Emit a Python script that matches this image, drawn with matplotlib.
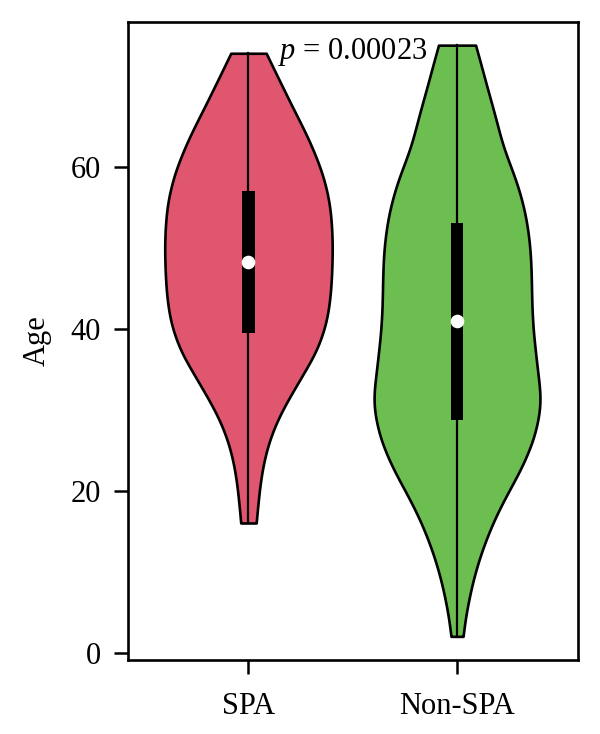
import numpy as np
import matplotlib
matplotlib.use("Agg")
import matplotlib.pyplot as plt
from matplotlib.patches import Rectangle

# ---- data ----
groups = ["SPA", "Non-SPA"]
colors = ["#E0566F", "#6CBE50"]
mins = [16, 2]
q1 = [39.4, 28.7]
medians = [48.2, 40.9]
q3 = [57.0, 53.0]
maxs = [74, 75]

# violin profiles (age level, half-width in x units)
spa_age = [16, 18, 20.5, 22.5, 24.6, 26.6, 28.7, 30.8, 32.8, 35.0, 37.0, 38.6, 40.6,
           42.7, 44.8, 46.8, 49.0, 51.0, 53.0, 55.1, 57.2, 59.2, 61.3, 63.3, 65.4,
           67.4, 69.5, 71.6, 74.0]
spa_width = [0.037, 0.044, 0.054, 0.065, 0.082, 0.105, 0.138, 0.180, 0.226, 0.276,
             0.322, 0.346, 0.372, 0.386, 0.395, 0.399, 0.402, 0.402, 0.398, 0.391,
             0.375, 0.354, 0.323, 0.290, 0.250, 0.210, 0.170, 0.130, 0.085]
non_age = [2, 4, 6, 8.1, 10.2, 12.2, 14.3, 16.4, 18.5, 20.5, 22.5, 24.6, 26.6, 28.7,
           30.4, 32.0, 33.2, 35.3, 37.4, 39.5, 41.5, 43.5, 45.6, 47.6, 49.7, 51.8,
           53.8, 55.9, 58.0, 60.0, 62.1, 64.0, 65.8, 67.9, 69.9, 72.5, 75.0]
non_width = [0.029, 0.038, 0.052, 0.069, 0.090, 0.114, 0.144, 0.178, 0.218, 0.260,
             0.303, 0.340, 0.370, 0.389, 0.400, 0.400, 0.394, 0.384, 0.375, 0.366,
             0.361, 0.358, 0.357, 0.355, 0.351, 0.342, 0.330, 0.311, 0.287, 0.258,
             0.226, 0.205, 0.1875, 0.165, 0.143, 0.116, 0.089]

profiles = [(spa_age, spa_width), (non_age, non_width)]
yticks = [0, 20, 40, 60]
p_label = r"$p$ = 0.00023"
ylabel = "Age"

plt.rcParams['font.family'] = ['Liberation Serif', 'DejaVu Serif']
plt.rcParams['mathtext.fontset'] = 'custom'
plt.rcParams['mathtext.it'] = 'Liberation Serif:italic'
plt.rcParams['mathtext.rm'] = 'Liberation Serif'

FS = 22


def smooth_profile(ages, widths, step=0.05, sigma=1.3):
    a = np.asarray(ages, float)
    w = np.asarray(widths, float)
    ys = np.arange(a[0], a[-1] + step / 2, step)
    ws = np.interp(ys, a, w)
    k = int(4 * sigma / step)
    # odd reflection at both ends keeps the end slopes
    left = 2 * ws[0] - ws[1:k + 1][::-1]
    right = 2 * ws[-1] - ws[-k - 1:-1][::-1]
    padded = np.concatenate([left, ws, right])
    xk = np.arange(-k, k + 1) * step
    kern = np.exp(-0.5 * (xk / sigma) ** 2)
    kern /= kern.sum()
    sm = np.convolve(padded, kern, mode='valid')
    sm[0] = w[0]
    sm[-1] = w[-1]
    return ys, sm


fig = plt.figure(figsize=(6.0, 7.34), dpi=100)
ax = fig.add_axes([0.2125, 0.1008, 0.7508, 0.8699])

for i, (g, col) in enumerate(zip(groups, colors)):
    c = i + 1
    ages, widths = profiles[i]
    ys, ws = smooth_profile(ages, widths)
    ax.fill_betweenx(ys, c - ws, c + ws, facecolor=col, edgecolor='black',
                     linewidth=1.9, zorder=2)
    ax.plot([c, c], [mins[i], maxs[i]], color='black', lw=1.6, zorder=3)
    ax.add_patch(Rectangle((c - 0.029, q1[i]), 0.058, q3[i] - q1[i],
                           facecolor='black', edgecolor='none', zorder=4))
    ax.plot(c, medians[i], 'o', color='white', ms=9.8, mec='none', zorder=5)

ax.text(1.5, 74.1, p_label, ha='center', va='center', fontsize=FS, zorder=6)

ax.set_xlim(0.42, 2.58)
ax.set_ylim(-0.92, 77.92)
ax.set_xticks([1, 2])
ax.set_xticklabels(groups)
ax.set_yticks(yticks)
ax.set_ylabel(ylabel, fontsize=FS, labelpad=14)
ax.tick_params(axis='both', labelsize=FS, length=10, width=1.8, direction='out')
ax.tick_params(axis='x', pad=13)
ax.tick_params(axis='y', pad=9)
for s in ax.spines.values():
    s.set_linewidth(1.9)

fig.savefig("out.png", dpi=100)
